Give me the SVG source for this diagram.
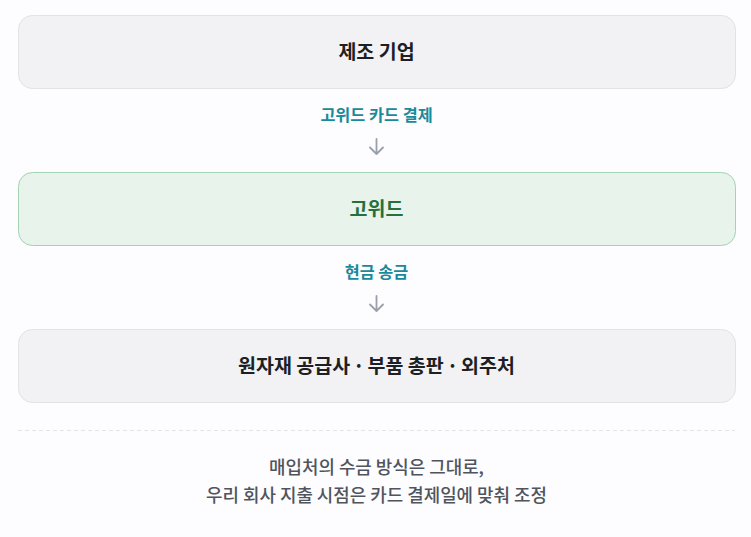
<svg xmlns="http://www.w3.org/2000/svg" width="751" height="537" viewBox="0 0 751 537">
<style>
.box{fill:#f2f2f5;stroke:#e2e2e7;stroke-width:1}
.gbox{fill:#e8f3eb;stroke:#a3d3b1;stroke-width:1}
.t{font-family:"Noto Sans CJK KR","Noto Sans",sans-serif;font-size:19.5px;font-weight:700;text-anchor:middle;fill:#1d1f24}
.gt{fill:#25703c}
.lbl{font-family:"Noto Sans CJK KR","Noto Sans",sans-serif;font-size:16.3px;font-weight:700;text-anchor:middle;fill:#1a8a9b}
.arr{fill:none;stroke:#9aa0ab;stroke-width:1.8;stroke-linecap:round;stroke-linejoin:round}
.note{font-family:"Noto Sans CJK KR","Noto Sans",sans-serif;font-size:17.9px;font-weight:500;text-anchor:middle;fill:#50545c}
</style>
<rect width="751" height="537" fill="#fdfcfe"/>
<g id="node-maker">
<rect class="box" x="18.5" y="15.5" width="717" height="73" rx="14"/>
<text class="t" x="376.5" y="58.5">제조 기업</text>
</g>
<g id="node-gowid">
<rect class="gbox" x="18.5" y="172.5" width="717" height="73" rx="14"/>
<text class="t gt" x="376.5" y="215.5">고위드</text>
</g>
<g id="node-suppliers">
<rect class="box" x="18.5" y="329.5" width="717" height="73" rx="14"/>
<text class="t" x="376.5" y="372.5">원자재 공급사 <tspan dx="-1.5">·</tspan><tspan dx="-1.5"> 부품 총판 </tspan><tspan dx="-1.5">·</tspan><tspan dx="-1.5"> 외주처</tspan></text>
</g>
<g id="connectors">
<text class="lbl" x="376.5" y="120.5">고위드 카드 결제</text>
<path class="arr" d="M376.5 139 V154 M370 147.5 L376.5 154 L383 147.5"/>
<text class="lbl" x="376.5" y="277.5">현금 송금</text>
<path class="arr" d="M376.5 296 V311 M370 304.5 L376.5 311 L383 304.5"/>
</g>
<line x1="18" y1="430.5" x2="735" y2="430.5" stroke="#e3e3e8" stroke-width="1" stroke-dasharray="4 3"/>
<text class="note" x="376.5" y="474">매입처의 수금 방식은 그대로,</text>
<text class="note" x="376.5" y="502">우리 회사 지출 시점은 카드 결제일에 맞춰 조정</text>
</svg>
